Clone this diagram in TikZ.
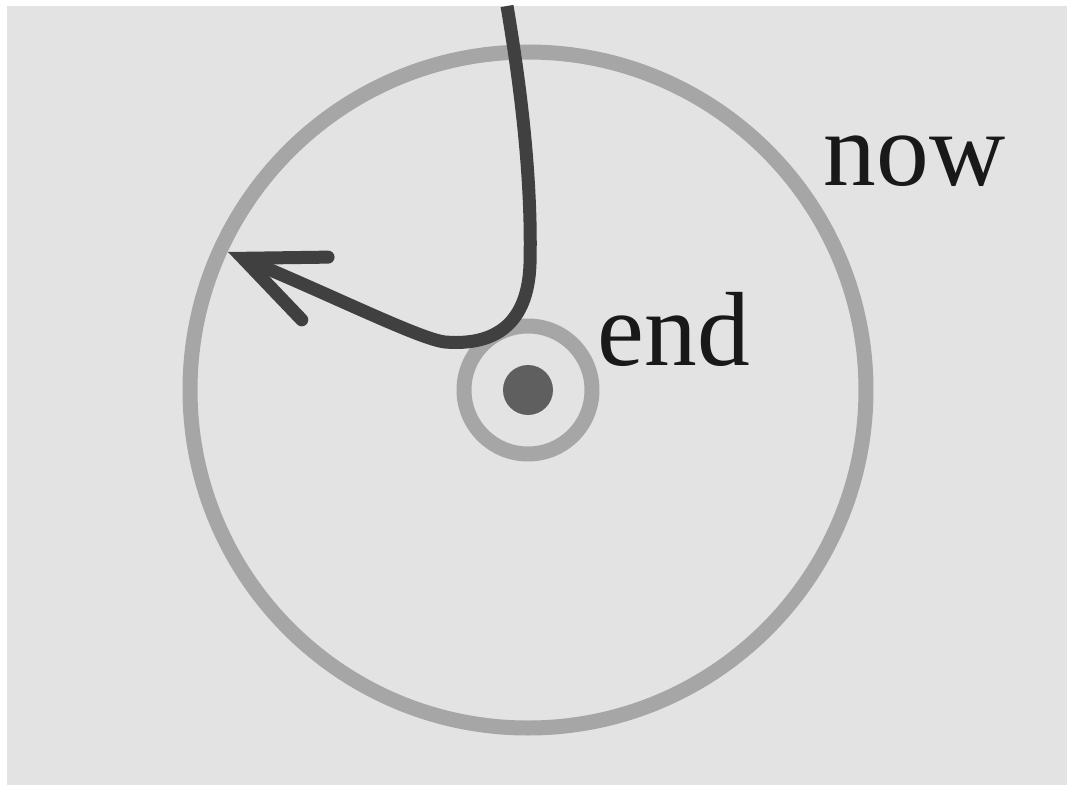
\documentclass[tikz,border=0pt]{standalone}
\usepackage{fontspec}
\setmainfont{Liberation Serif}
\usetikzlibrary{arrows.meta}

\definecolor{paper}{HTML}{E3E3E3}
\definecolor{ring}{HTML}{A6A6A6}
\definecolor{path}{HTML}{404040}
\definecolor{spot}{HTML}{5F5F5F}

\begin{document}
\begin{tikzpicture}
      % Frame
      \useasboundingbox (0,0) rectangle (10.67,7.84);
      \fill[white] (-0.1,-0.1) rectangle (10.8,7.95);
      \fill[paper] (0.07,-0.1) rectangle (10.8,7.78);

      % Circles
      \tikzset{RingStyle/.style = {draw=ring, line width=0.15cm}}
      \coordinate (centre) at (5.28,3.94);
      \draw[RingStyle] (centre) circle[radius=3.38];
      \draw[RingStyle] (centre) circle[radius=0.64];
      \fill[spot] (centre) circle[radius=0.25];

      % Labels
      \tikzset{LabelStyle/.style = {anchor=base west, inner sep=0pt,
            font=\fontsize{30}{36}\selectfont, text=black!90}}
      \node[LabelStyle] (now) at (8.23,5.99) {now};
      \node[LabelStyle] (end) at (5.97,4.19) {end};

      % Path
      \coordinate (top) at (5.07,7.78);
      \coordinate (tip) at (2.28,5.32);
      \tikzset{PathStyle/.style = {draw=path, line width=0.13cm,
            -{Straight Barb[length=0.78cm,width=0.68cm,line cap=round]}}}
      \draw[PathStyle] (top) .. controls (5.22,6.9) and (5.32,6.0) .. (5.30,5.2)
            .. controls (5.28,4.6) and (4.95,4.38) .. (4.45,4.42)
            .. controls (4.2,4.45) and (3.4,4.85) .. (tip);
\end{tikzpicture}
\end{document}
